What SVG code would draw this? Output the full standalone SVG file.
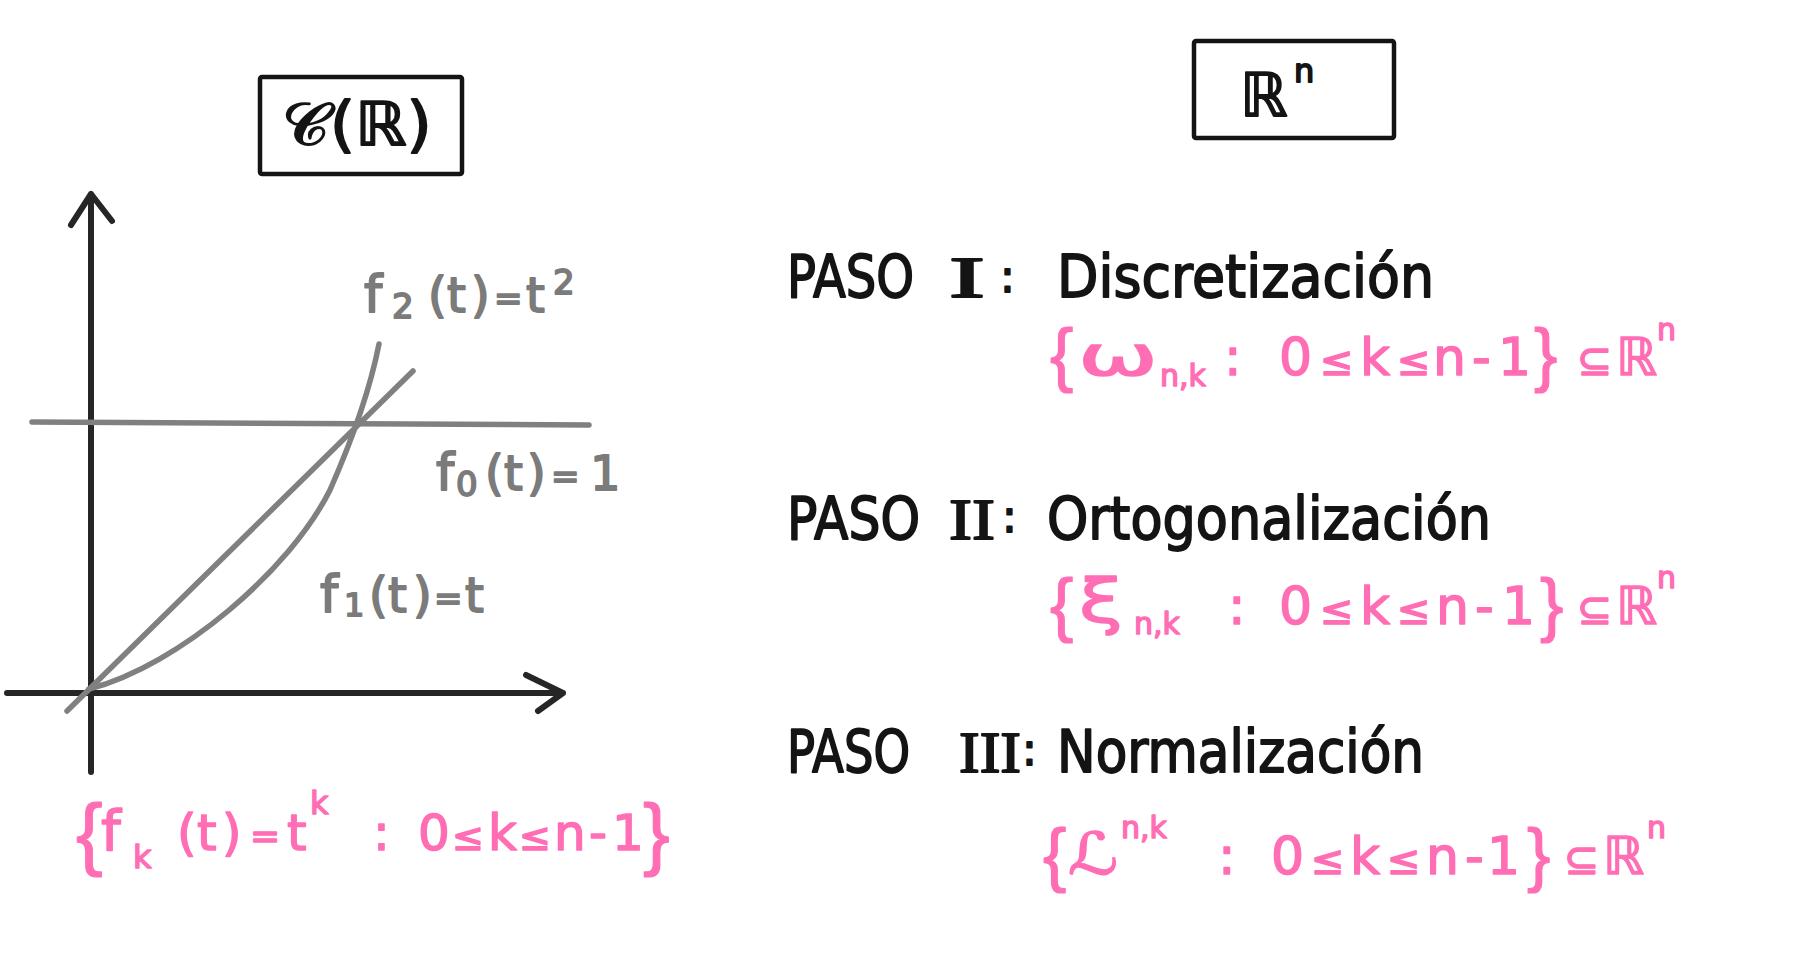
<svg xmlns="http://www.w3.org/2000/svg" width="1807" height="963" viewBox="0 0 1807 963">
<style>
text{font-family:"DejaVu Sans","Liberation Sans",sans-serif;}
.bk{fill:#141414;stroke:#141414;stroke-width:1.8;stroke-linejoin:round;}
.gy{fill:#7b7b7b;stroke:#7b7b7b;stroke-width:1.8;stroke-linejoin:round;}
.pk{fill:#ff6eb4;stroke:#ff6eb4;stroke-width:1.5;stroke-linejoin:round;}
.br{font-family:"Liberation Sans","DejaVu Sans",sans-serif;stroke-width:1.2;}
.rom{font-family:"Liberation Serif","DejaVu Serif",serif;}
.box{fill:none;stroke:#141414;stroke-width:4.5;stroke-linejoin:round;}
.axis{fill:none;stroke:#262626;stroke-width:6;stroke-linecap:round;stroke-linejoin:round;}
.fn{fill:none;stroke:#808080;stroke-width:5.5;stroke-linecap:round;stroke-linejoin:round;}
</style>
<rect width="1807" height="963" fill="#ffffff"/>

<g id="box-c">
<rect class="box" x="260" y="77" width="202" height="97" rx="2"/>
<text class="bk" x="282" y="145" font-size="60" textLength="150" lengthAdjust="spacingAndGlyphs">𝒞(ℝ)</text>
</g>

<g id="box-rn">
<rect class="box" x="1194" y="41" width="200" height="97" rx="2"/>
<text class="bk" x="1240" y="116" font-size="60">ℝ</text>
<text class="bk" x="1294" y="82" font-size="32">n</text>
</g>

<g id="plot">
<path class="axis" d="M91,772 L91,194 M71,225 L91,194 L112,221"/>
<path class="axis" d="M7,693 L563,693 M526,675 L563,693 L538,711"/>
<path class="fn" d="M32,422 L589,425"/>
<path class="fn" d="M67,711 L413,371"/>
<path class="fn" d="M89,689 C180,665 290,570 330,490 C352,440 370,390 379,344"/>
</g>

<g id="labels-f">
<text class="gy" font-size="48"><tspan x="364" y="312" font-size="52">f</tspan><tspan x="428" y="312">(</tspan><tspan x="447" y="312">t</tspan><tspan x="471" y="312">)</tspan><tspan x="494" y="310" font-size="34">=</tspan><tspan x="526" y="312">t</tspan></text>
<text class="gy" font-size="34"><tspan x="392" y="318">2</tspan><tspan x="553" y="294">2</tspan></text>
<text class="gy" font-size="48"><tspan x="436" y="490" font-size="52">f</tspan><tspan x="485" y="490">(</tspan><tspan x="504" y="490">t</tspan><tspan x="527" y="490">)</tspan><tspan x="551" y="488" font-size="34">=</tspan><tspan x="590" y="490">1</tspan></text>
<text class="gy" font-size="34"><tspan x="456" y="496">0</tspan></text>
<text class="gy" font-size="48"><tspan x="320" y="612" font-size="52">f</tspan><tspan x="369" y="612">(</tspan><tspan x="388" y="612">t</tspan><tspan x="413" y="612">)</tspan><tspan x="434" y="610" font-size="34">=</tspan><tspan x="465" y="612">t</tspan></text>
<text class="gy" font-size="32"><tspan x="344" y="616">1</tspan></text>
</g>

<g id="set-f">
<text class="pk br" font-size="80"><tspan x="76" y="860">{</tspan><tspan x="643" y="860">}</tspan></text>
<text class="pk" font-size="50"><tspan x="101" y="850" font-size="56">f</tspan><tspan x="177" y="850">(</tspan><tspan x="197" y="850">t</tspan><tspan x="222" y="850">)</tspan><tspan x="250" y="848" font-size="36">=</tspan><tspan x="287" y="850">t</tspan><tspan x="373" y="850">:</tspan><tspan x="418" y="850">0</tspan><tspan x="452" y="850" font-size="38">≤</tspan><tspan x="488" y="850">k</tspan><tspan x="519" y="850" font-size="38">≤</tspan><tspan x="554" y="850">n</tspan><tspan x="589" y="850">-</tspan><tspan x="612" y="850">1</tspan></text>
<text class="pk" font-size="32"><tspan x="133" y="868">k</tspan><tspan x="310" y="814">k</tspan></text>
</g>

<g id="step-1">
<text class="bk" x="787" y="297" font-size="58" textLength="127" lengthAdjust="spacingAndGlyphs">PASO</text>
<text class="bk rom" x="949" y="297" font-size="58" textLength="36" lengthAdjust="spacingAndGlyphs">I</text>
<text class="bk" x="1000" y="292" font-size="44">:</text>
<text class="bk" x="1057" y="297" font-size="58" textLength="377" lengthAdjust="spacingAndGlyphs">Discretización</text>
</g>
<g id="set-1">
<text class="pk br" font-size="70"><tspan x="1050" y="378">{</tspan><tspan x="1534" y="378">}</tspan></text>
<text class="pk" x="1078" y="375" font-size="56" textLength="80" lengthAdjust="spacingAndGlyphs">ω</text>
<text class="pk" font-size="52"><tspan x="1224" y="375">:</tspan><tspan x="1279" y="375">0</tspan><tspan x="1320" y="375" font-size="40">≤</tspan><tspan x="1360" y="375">k</tspan><tspan x="1397" y="375" font-size="40">≤</tspan><tspan x="1433" y="375">n</tspan><tspan x="1472" y="375">-</tspan><tspan x="1498" y="375">1</tspan><tspan x="1577" y="375" font-size="42">⊆</tspan><tspan x="1616" y="375">ℝ</tspan></text>
<text class="pk" font-size="30"><tspan x="1160" y="386">n,k</tspan><tspan x="1657" y="340">n</tspan></text>
</g>

<g id="step-2">
<text class="bk" x="787" y="539" font-size="58" textLength="133" lengthAdjust="spacingAndGlyphs">PASO</text>
<text class="bk rom" x="949" y="539" font-size="58" textLength="46" lengthAdjust="spacingAndGlyphs">II</text>
<text class="bk" x="1002" y="532" font-size="44">:</text>
<text class="bk" x="1047" y="539" font-size="58" textLength="444" lengthAdjust="spacingAndGlyphs">Ortogonalización</text>
</g>
<g id="set-2">
<text class="pk br" font-size="70"><tspan x="1050" y="628">{</tspan><tspan x="1540" y="628">}</tspan></text>
<text class="pk" x="1079" y="622" font-size="60" textLength="44" lengthAdjust="spacingAndGlyphs">ξ</text>
<text class="pk" font-size="52"><tspan x="1228" y="624">:</tspan><tspan x="1279" y="624">0</tspan><tspan x="1320" y="624" font-size="40">≤</tspan><tspan x="1360" y="624">k</tspan><tspan x="1397" y="624" font-size="40">≤</tspan><tspan x="1436" y="624">n</tspan><tspan x="1475" y="624">-</tspan><tspan x="1502" y="624">1</tspan><tspan x="1577" y="624" font-size="42">⊆</tspan><tspan x="1616" y="624">ℝ</tspan></text>
<text class="pk" font-size="30"><tspan x="1134" y="634">n,k</tspan><tspan x="1657" y="588">n</tspan></text>
</g>

<g id="step-3">
<text class="bk" x="787" y="772" font-size="58" textLength="123" lengthAdjust="spacingAndGlyphs">PASO</text>
<text class="bk rom" x="959" y="772" font-size="58" textLength="62" lengthAdjust="spacingAndGlyphs">III</text>
<text class="bk" x="1022" y="765" font-size="44">:</text>
<text class="bk" x="1057" y="772" font-size="58" textLength="367" lengthAdjust="spacingAndGlyphs">Normalización</text>
</g>
<g id="set-3">
<text class="pk br" font-size="70"><tspan x="1043" y="878">{</tspan><tspan x="1527" y="878">}</tspan></text>
<text class="pk" x="1068" y="874" font-size="58" textLength="50" lengthAdjust="spacingAndGlyphs">ℒ</text>
<text class="pk" font-size="52"><tspan x="1218" y="874">:</tspan><tspan x="1271" y="874">0</tspan><tspan x="1311" y="874" font-size="40">≤</tspan><tspan x="1350" y="874">k</tspan><tspan x="1387" y="874" font-size="40">≤</tspan><tspan x="1426" y="874">n</tspan><tspan x="1465" y="874">-</tspan><tspan x="1487" y="874">1</tspan><tspan x="1564" y="874" font-size="42">⊆</tspan><tspan x="1603" y="874">ℝ</tspan></text>
<text class="pk" font-size="30"><tspan x="1121" y="838">n,k</tspan><tspan x="1647" y="838">n</tspan></text>
</g>
</svg>
